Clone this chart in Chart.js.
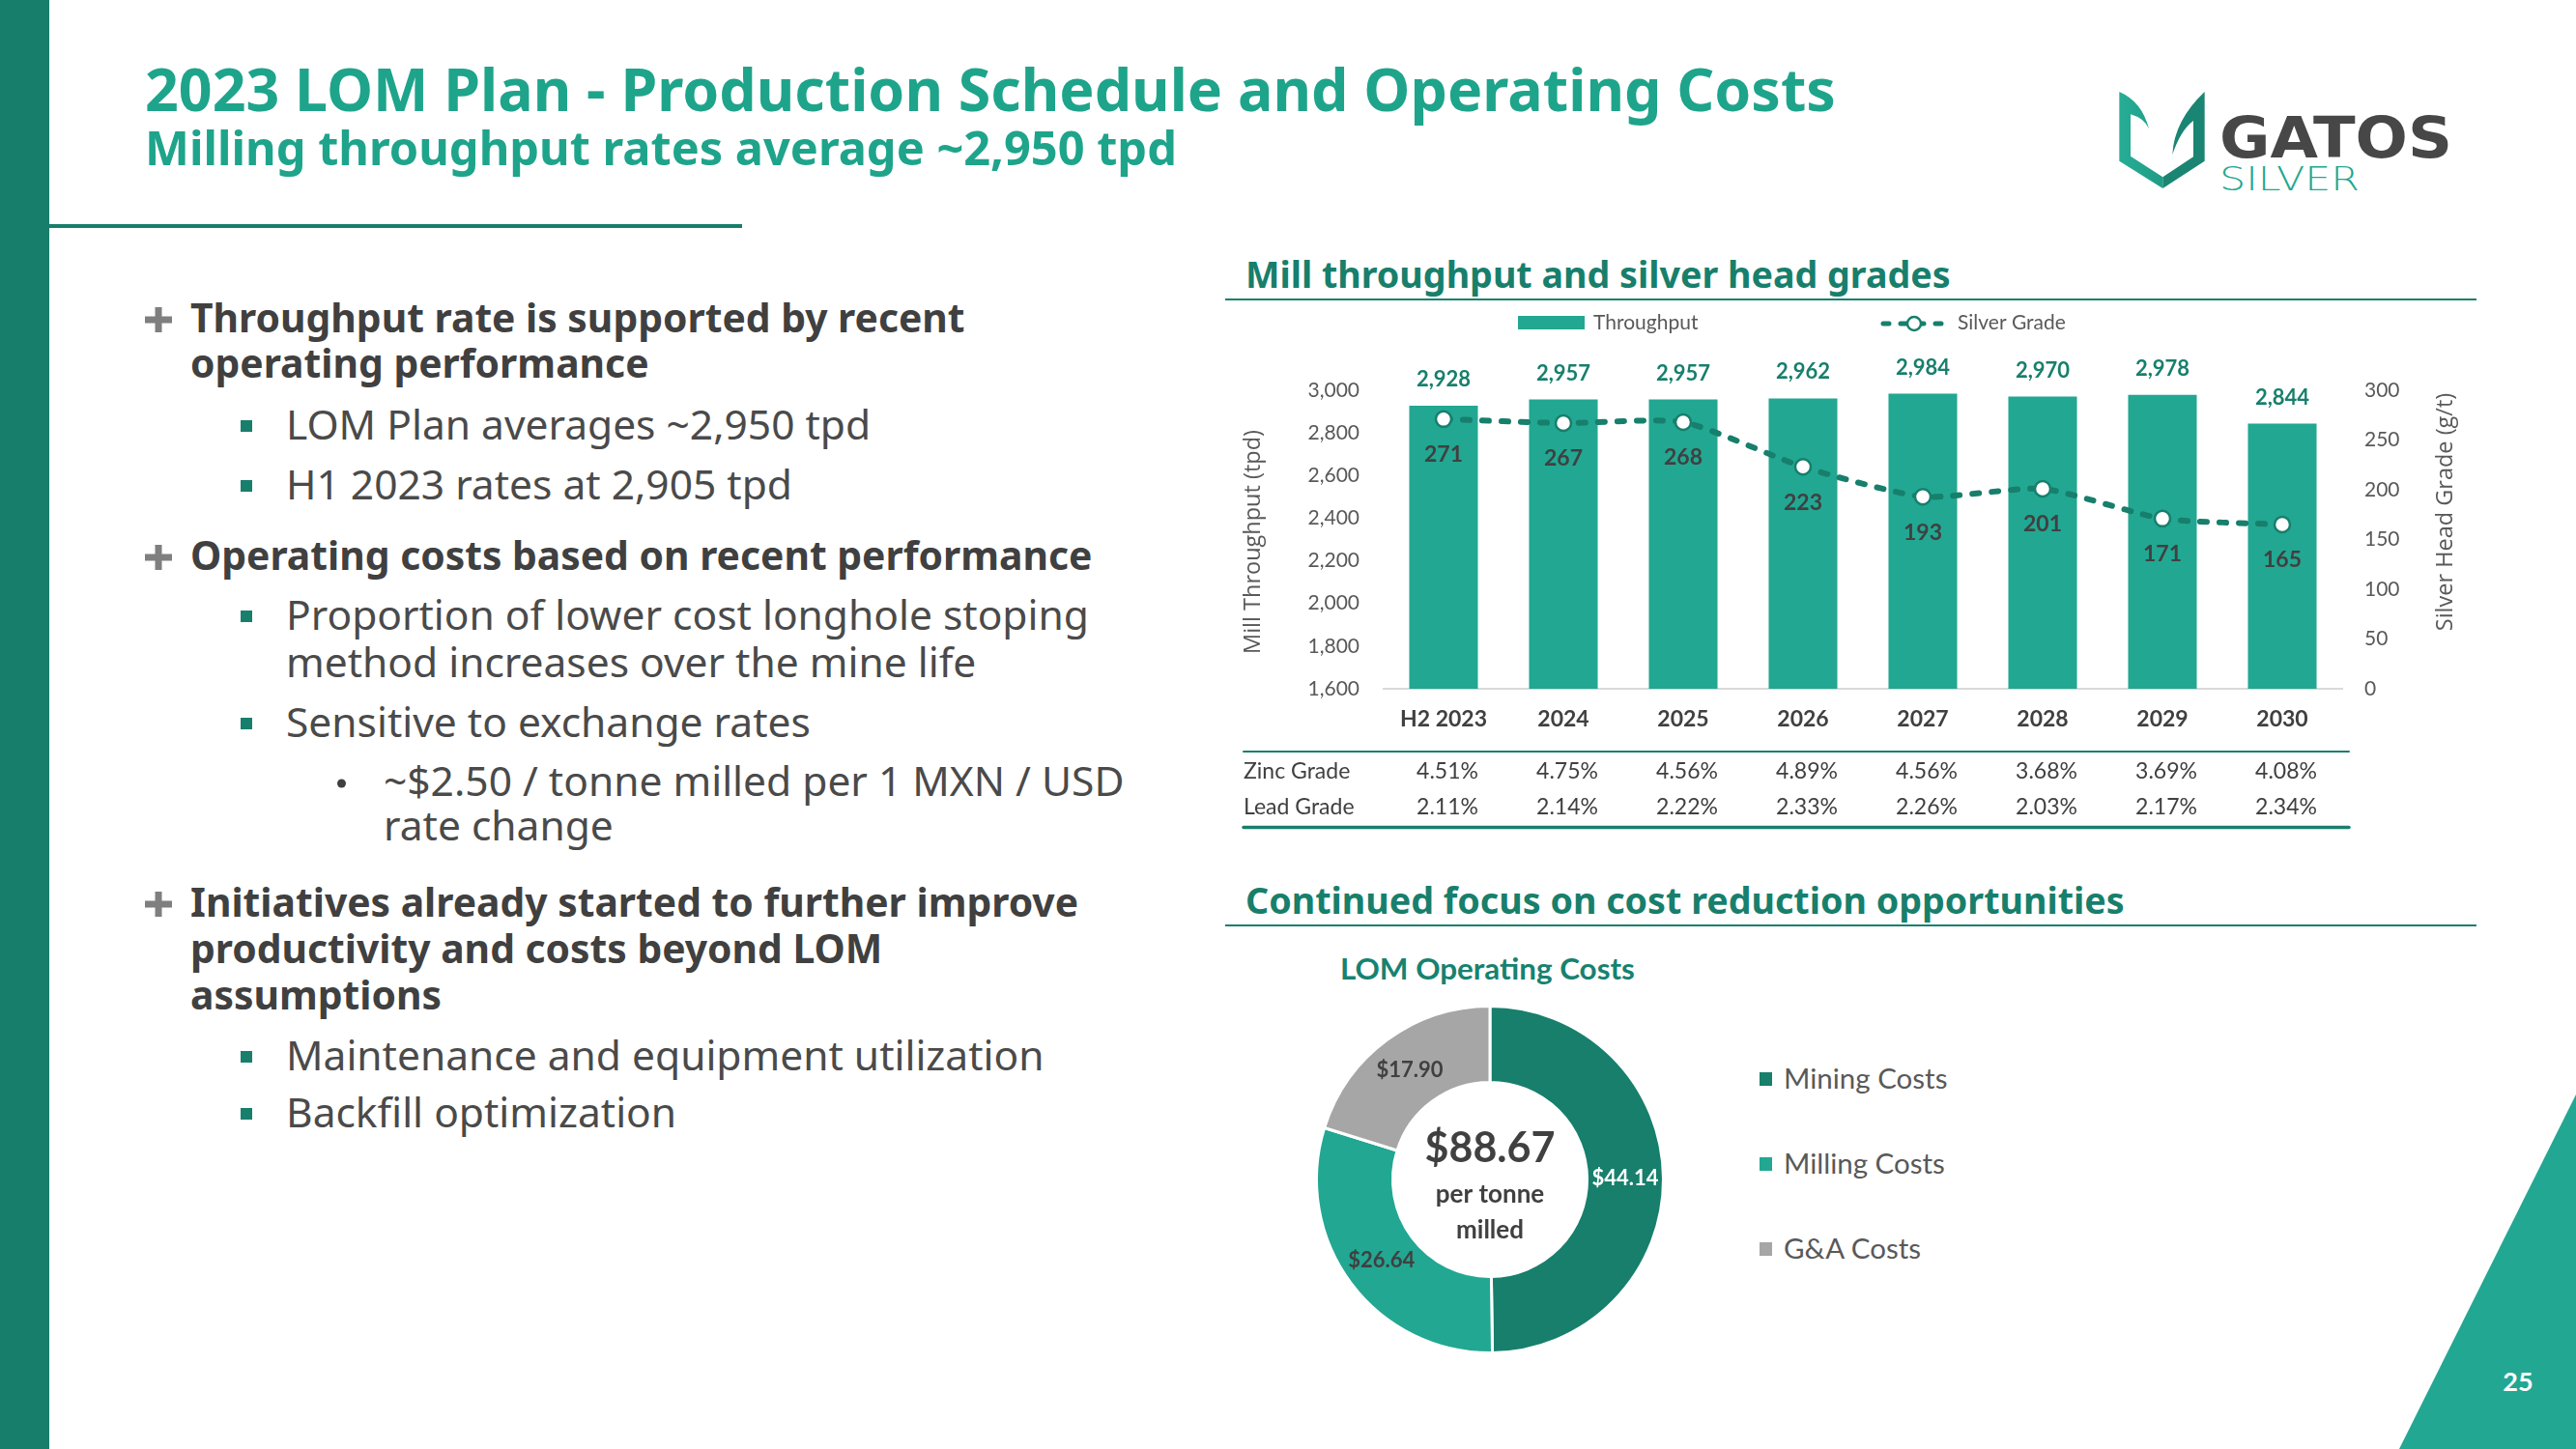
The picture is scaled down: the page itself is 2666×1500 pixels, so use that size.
<!DOCTYPE html>
<html>
<head>
<meta charset="utf-8">
<title>2023 LOM Plan - Production Schedule and Operating Costs</title>
<script src="https://cdn.jsdelivr.net/npm/chart.js@4.4.0/dist/chart.umd.min.js"></script>
<style>
  html, body { margin: 0; padding: 0; background: #fff; }
  body { width: 2666px; height: 1500px; position: relative; overflow: hidden; }
  #slide { position: absolute; left: 0; top: 0; }
  .box { position: absolute; }
  .sans { font-family: "Noto Sans", sans-serif; }
</style>
</head>
<body>

<svg id="slide" width="2666" height="1500" xmlns="http://www.w3.org/2000/svg">
  <defs>
    <linearGradient id="shieldL" x1="0" x2="1" y1="0" y2="0">
      <stop offset="0" stop-color="#26ad96"/>
      <stop offset="1" stop-color="#1f9c85"/>
    </linearGradient>
  </defs>

  <!-- frame -->
  <rect x="0" y="0" width="51" height="1500" fill="#177e6b"/>
  <rect x="51" y="232" width="717" height="4" fill="#177e6b"/>
  <polygon points="2666,1133 2666,1500 2483,1500" fill="#22a792"/>
  <text x="2606" y="1440" text-anchor="middle" font-family="Lato" font-weight="bold" font-size="27" fill="#fff">25</text>

  <!-- logo -->
  <g transform="translate(2180,85) scale(0.3333)">
    <path d="M40,30 Q110,60 132,145 Q118,112 75,100 L75,230 L175,295 L175,330 L40,245 Z" fill="url(#shieldL)"/>
    <path d="M305,30 L305,245 L175,330 L175,295 L270,232 L270,120 Q230,150 205,225 Q210,120 305,30 Z" fill="#1a8572"/>
  </g>
  <text x="2297" y="163" textLength="241" lengthAdjust="spacingAndGlyphs" font-family="DejaVu Sans" font-weight="bold" font-size="58" fill="#474747">GATOS</text>
  <text x="2297" y="197" textLength="145" lengthAdjust="spacingAndGlyphs" font-family="DejaVu Sans" font-weight="200" font-size="33" fill="#22a792">SILVER</text>

  <!-- titles -->
  <text class="sans fit" data-g="title" data-w="1750" x="150" y="115" font-size="53" font-weight="bold" fill="#1ea48b">2023 LOM Plan - Production Schedule and Operating Costs</text>
  <text class="sans fit" data-g="sub" data-w="1068" x="150" y="171" font-size="44" font-weight="bold" fill="#1ea48b">Milling throughput rates average ~2,950 tpd</text>

  <!-- bullets -->
  <g fill="#7f7f7f">
    <rect x="150" y="327.5" width="28" height="7"/><rect x="160.5" y="318" width="7" height="26"/>
    <rect x="150" y="573.5" width="28" height="7"/><rect x="160.5" y="564" width="7" height="26"/>
    <rect x="150" y="932.5" width="28" height="7"/><rect x="160.5" y="923" width="7" height="26"/>
  </g>
  <g fill="#177f6c">
    <rect x="249" y="435" width="12" height="12"/>
    <rect x="249" y="497" width="12" height="12"/>
    <rect x="249" y="632" width="12" height="12"/>
    <rect x="249" y="743" width="12" height="12"/>
    <rect x="249" y="1088" width="12" height="12"/>
    <rect x="249" y="1147" width="12" height="12"/>
  </g>
  <circle cx="353.5" cy="811" r="4.5" fill="#404040"/>

  <g class="sans" fill="#404040" font-weight="bold" font-size="38">
    <text class="fit" data-g="bold" data-w="809" x="197" y="344">Throughput rate is supported by recent</text>
    <text class="fit" data-g="bold" data-w="471" x="197" y="391">operating performance</text>
    <text class="fit" data-g="bold" data-w="938" x="197" y="590">Operating costs based on recent performance</text>
    <text class="fit" data-g="bold" data-w="912" x="197" y="949">Initiatives already started to further improve</text>
    <text class="fit" data-g="bold" data-w="726" x="197" y="997">productivity and costs beyond LOM</text>
    <text class="fit" data-g="bold" data-w="257" x="197" y="1045">assumptions</text>
  </g>
  <g class="sans" fill="#4a4a4a" font-size="38">
    <text class="fit" data-g="reg" data-w="620" x="296" y="455">LOM Plan averages ~2,950 tpd</text>
    <text class="fit" data-g="reg" data-w="544" x="296" y="517">H1 2023 rates at 2,905 tpd</text>
    <text class="fit" data-g="reg" data-w="827" x="296" y="652">Proportion of lower cost longhole stoping</text>
    <text class="fit" data-g="reg" data-w="705" x="296" y="701">method increases over the mine life</text>
    <text class="fit" data-g="reg" data-w="542" x="296" y="763">Sensitive to exchange rates</text>
    <text class="fit" data-g="reg" data-w="780" x="397" y="824">~$2.50 / tonne milled per 1 MXN / USD</text>
    <text class="fit" data-g="reg" data-w="230" x="397" y="870">rate change</text>
    <text class="fit" data-g="reg" data-w="769" x="296" y="1108">Maintenance and equipment utilization</text>
    <text class="fit" data-g="reg" data-w="401" x="296" y="1167">Backfill optimization</text>
  </g>

  <!-- right side headings -->
  <text class="sans fit" data-g="head" data-w="733" x="1289" y="298" font-size="33" font-weight="bold" fill="#177f6c">Mill throughput and silver head grades</text>
  <rect x="1268" y="309" width="1295" height="2" fill="#177f6c"/>
  <text class="sans fit" data-g="head" data-w="906" x="1289" y="946" font-size="33" font-weight="bold" fill="#177f6c">Continued focus on cost reduction opportunities</text>
  <rect x="1268" y="957" width="1295" height="2" fill="#177f6c"/>

  <text class="fit" data-g="lom" data-w="305" x="1387" y="1014" font-family="Lato" font-weight="bold" font-size="27" fill="#178270">LOM Operating Costs</text>
  <g id="costLegend"></g>
</svg>

<div class="box" style="left:1268px;top:318px;width:1300px;height:560px"><canvas id="mill" width="1300" height="560"></canvas></div>
<div class="box" style="left:1342px;top:1021px;width:400px;height:400px"><canvas id="costs" width="400" height="400"></canvas></div>

<script>
const TEAL = '#22a792';
const DARK = '#177f6c';
const GREY = '#a6a6a6';
const INK = '#404040';
const SOFT = '#595959';

// mill throughput and head grades
const years = ['H2 2023', '2024', '2025', '2026', '2027', '2028', '2029', '2030'];
const throughput = [2928, 2957, 2957, 2962, 2984, 2970, 2978, 2844];
const silverGrade = [271, 267, 268, 223, 193, 201, 171, 165];
const zincGrade = [4.51, 4.75, 4.56, 4.89, 4.56, 3.68, 3.69, 4.08];
const leadGrade = [2.11, 2.14, 2.22, 2.33, 2.26, 2.03, 2.17, 2.34];
const tpdTicks = [1600, 1800, 2000, 2200, 2400, 2600, 2800, 3000];
const gradeTicks = [0, 50, 100, 150, 200, 250, 300];

// LOM operating costs ($/t)
const costNames = ['Mining Costs', 'Milling Costs', 'G&A Costs'];
const costValues = [44.14, 26.64, 17.90];
const costColors = [DARK, TEAL, GREY];
const costLabelColors = ['#ffffff', INK, INK];
const costTotal = '$88.67';

// scale slide text so each group spans the widths of the original
function fitText() {
  const groups = {};
  document.querySelectorAll('text.fit').forEach(el => {
    (groups[el.dataset.g] = groups[el.dataset.g] || []).push(el);
  });
  Object.values(groups).forEach(els => {
    let k = 0;
    els.forEach(el => { k += (+el.dataset.w) / el.getComputedTextLength(); });
    k = k / els.length;
    els.forEach(el => {
      const fs = parseFloat(el.getAttribute('font-size') || el.parentNode.getAttribute('font-size'));
      el.setAttribute('font-size', (fs * k).toFixed(2));
    });
  });
}

// donut legend
const NS = 'http://www.w3.org/2000/svg';
const legendG = document.getElementById('costLegend');
costNames.forEach((name, i) => {
  const base = 1127 + i * 88;
  const r = document.createElementNS(NS, 'rect');
  r.setAttribute('x', 1821); r.setAttribute('y', base - 17);
  r.setAttribute('width', 13); r.setAttribute('height', 14);
  r.setAttribute('fill', costColors[i]);
  legendG.appendChild(r);
  const t = document.createElementNS(NS, 'text');
  t.setAttribute('x', 1846); t.setAttribute('y', base);
  t.setAttribute('font-family', 'Lato'); t.setAttribute('font-size', 28);
  t.setAttribute('fill', SOFT);
  t.setAttribute('class', 'fit');
  t.dataset.g = 'legend';
  t.dataset.w = [171, 169, 139][i];
  t.textContent = name;
  legendG.appendChild(t);
});
fitText();

const millExtras = {
  id: 'millExtras',
  afterDatasetsDraw(chart) {
    const ctx = chart.ctx;
    const bars = chart.getDatasetMeta(0).data;
    const pts = chart.getDatasetMeta(1).data;
    ctx.save();
    ctx.textAlign = 'center';
    ctx.textBaseline = 'middle';
    ctx.font = 'bold 22px Lato';
    ctx.fillStyle = DARK;
    bars.forEach((b, i) => ctx.fillText(throughput[i].toLocaleString('en-US'), b.x, b.y - 27));
    ctx.font = 'bold 23px Lato';
    ctx.fillStyle = INK;
    pts.forEach((p, i) => ctx.fillText(String(silverGrade[i]), p.x, p.y + 37));
    ctx.restore();
  },
  afterDraw(chart) {
    const ctx = chart.ctx;
    const x = chart.scales.x;
    ctx.save();

    // legend
    ctx.fillStyle = TEAL;
    ctx.fillRect(303, 9, 69, 14);
    ctx.strokeStyle = DARK;
    ctx.lineWidth = 5;
    ctx.lineCap = 'round';
    ctx.setLineDash([6, 12]);
    ctx.beginPath(); ctx.moveTo(681, 17); ctx.lineTo(747, 17); ctx.stroke();
    ctx.setLineDash([]);
    ctx.beginPath(); ctx.arc(713, 17, 7, 0, Math.PI * 2);
    ctx.fillStyle = '#fff'; ctx.fill();
    ctx.lineWidth = 2.5; ctx.stroke();
    ctx.font = '21px Lato';
    ctx.fillStyle = SOFT;
    ctx.textAlign = 'left';
    ctx.textBaseline = 'alphabetic';
    ctx.fillText(chart.data.datasets[0].label, 381, 23);
    ctx.fillText(chart.data.datasets[1].label, 758, 23);

    // axis titles
    ctx.font = '23.5px "Open Sans"';
    ctx.textAlign = 'center';
    ctx.textBaseline = 'middle';
    ctx.save(); ctx.translate(29, 243); ctx.rotate(-Math.PI / 2);
    ctx.fillText('Mill Throughput (tpd)', 0, 0); ctx.restore();
    ctx.save(); ctx.translate(1263, 212); ctx.rotate(-Math.PI / 2);
    ctx.fillText('Silver Head Grade (g/t)', 0, 0); ctx.restore();

    // zinc / lead table under the axis
    ctx.strokeStyle = DARK;
    ctx.lineWidth = 2;
    ctx.beginPath(); ctx.moveTo(19, 460); ctx.lineTo(1163, 460); ctx.stroke();
    ctx.lineWidth = 3.5;
    ctx.beginPath(); ctx.moveTo(19, 538.5); ctx.lineTo(1163, 538.5); ctx.stroke();
    ctx.font = '23px Lato';
    ctx.fillStyle = INK;
    ctx.textBaseline = 'alphabetic';
    [['Zinc Grade', zincGrade, 488], ['Lead Grade', leadGrade, 525]].forEach(([name, vals, y]) => {
      ctx.textAlign = 'left';
      ctx.fillText(name, 19, y);
      ctx.textAlign = 'center';
      vals.forEach((v, i) => ctx.fillText(v.toFixed(2) + '%', x.getPixelForValue(i) + 4, y));
    });
    ctx.restore();
  }
};

new Chart(document.getElementById('mill'), {
  data: {
    labels: years,
    datasets: [{
      type: 'bar',
      label: 'Throughput',
      data: throughput,
      yAxisID: 'y',
      backgroundColor: TEAL,
      barPercentage: 0.573,
      categoryPercentage: 1,
      order: 2
    }, {
      type: 'line',
      label: 'Silver Grade',
      data: silverGrade,
      yAxisID: 'y1',
      borderColor: DARK,
      borderWidth: 6,
      borderDash: [7, 13],
      borderCapStyle: 'round',
      tension: 0.2,
      pointRadius: 8,
      pointBorderWidth: 2.5,
      pointBackgroundColor: '#fff',
      pointBorderColor: DARK,
      order: 1
    }]
  },
  options: {
    responsive: false,
    animation: false,
    layout: { padding: { top: 86 } },
    plugins: { legend: { display: false }, tooltip: { enabled: false } },
    scales: {
      x: {
        grid: { display: false, drawTicks: false },
        border: { display: true, color: '#d9d9d9', width: 2 },
        ticks: { color: INK, padding: 18, font: { family: 'Lato', size: 23, weight: 'bold' } },
        afterFit(s) { s.height = 165; }
      },
      y: {
        position: 'left',
        min: tpdTicks[0],
        max: tpdTicks[tpdTicks.length - 1],
        grid: { display: false, drawTicks: false },
        border: { display: false },
        ticks: {
          stepSize: tpdTicks[1] - tpdTicks[0],
          padding: 25,
          color: SOFT,
          font: { family: 'Lato', size: 21 },
          callback: v => v.toLocaleString('en-US')
        },
        afterFit(s) { s.width = 164; }
      },
      y1: {
        position: 'right',
        min: gradeTicks[0],
        max: gradeTicks[gradeTicks.length - 1],
        grid: { display: false, drawTicks: false },
        border: { display: false },
        ticks: {
          stepSize: gradeTicks[1] - gradeTicks[0],
          padding: 23,
          color: SOFT,
          font: { family: 'Lato', size: 21 }
        },
        afterFit(s) { s.width = 144; }
      }
    }
  },
  plugins: [millExtras]
});

const costExtras = {
  id: 'costExtras',
  afterDatasetsDraw(chart) {
    const ctx = chart.ctx;
    const arcs = chart.getDatasetMeta(0).data;
    ctx.save();
    ctx.textAlign = 'center';
    ctx.textBaseline = 'middle';
    ctx.font = 'bold 22px Lato';
    arcs.forEach((a, i) => {
      const p = a.tooltipPosition();
      ctx.fillStyle = costLabelColors[i];
      ctx.fillText('$' + costValues[i].toFixed(2), p.x, p.y);
    });
    const cx = arcs[0].x, cy = arcs[0].y;
    ctx.fillStyle = INK;
    ctx.textBaseline = 'alphabetic';
    ctx.font = 'bold 43px Lato';
    ctx.fillText(costTotal, cx, cy - 18);
    ctx.font = 'bold 26px Lato';
    ctx.fillText('per tonne', cx, cy + 24);
    ctx.fillText('milled', cx, cy + 61);
    ctx.restore();
  }
};

new Chart(document.getElementById('costs'), {
  type: 'doughnut',
  data: {
    labels: costNames,
    datasets: [{
      data: costValues,
      backgroundColor: costColors,
      borderColor: '#fff',
      borderWidth: 3,
      hoverOffset: 0
    }]
  },
  options: {
    responsive: false,
    animation: false,
    cutout: '56%',
    layout: { padding: 19 },
    plugins: { legend: { display: false }, tooltip: { enabled: false } }
  },
  plugins: [costExtras]
});
</script>
</body>
</html>
